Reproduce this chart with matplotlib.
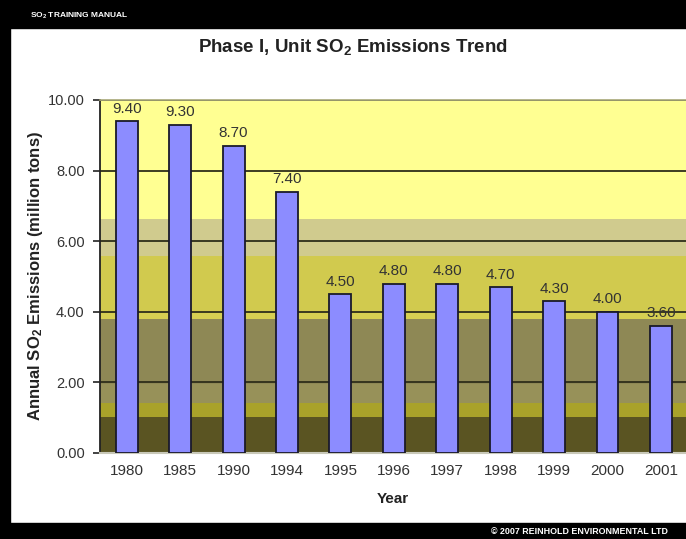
import matplotlib
matplotlib.use("Agg")
import matplotlib.pyplot as plt
from matplotlib.patches import Rectangle

plt.rcParams['font.family'] = ['Liberation Sans', 'DejaVu Sans']
# subscripts in the titles are set through mathtext, in the bold sans face
plt.rcParams['mathtext.fontset'] = 'custom'
plt.rcParams['mathtext.rm'] = 'Liberation Sans:bold'
plt.rcParams['mathtext.it'] = 'Liberation Sans:bold'
plt.rcParams['mathtext.bf'] = 'Liberation Sans:bold'

years = ['1980', '1985', '1990', '1994', '1995', '1996', '1997', '1998', '1999', '2000', '2001']
emissions = [9.40, 9.30, 8.70, 7.40, 4.50, 4.80, 4.80, 4.70, 4.30, 4.00, 3.60]
yticks = [0, 2, 4, 6, 8, 10]

# horizontal shaded bands behind the bars (lower, upper, colour)
bands = [
    (0.00, 1.02, '#5a5422'),
    (1.02, 1.42, '#a9a22a'),
    (1.42, 1.95, '#979159'),
    (1.95, 3.80, '#8e8855'),
    (3.80, 3.97, '#d6cf52'),
    (3.97, 5.58, '#d1ca4e'),
    (5.58, 6.63, '#d0cb8e'),
    (6.63, 10.0, '#ffff92'),
]

fig = plt.figure(figsize=(6.86, 5.39), dpi=100)
fig.patch.set_facecolor('white')

# page frame: black header, footer and left edge
fig.patches.append(Rectangle((0, 0.948), 1, 0.052, transform=fig.transFigure, color='black', zorder=0))
fig.patches.append(Rectangle((0, 0), 1, 0.0297, transform=fig.transFigure, color='black', zorder=0))
fig.patches.append(Rectangle((0, 0), 0.0146, 1, transform=fig.transFigure, color='black', zorder=0))
fig.text(0.044, 0.971, 'SO$_2$ TRAINING MANUAL', color='white', fontsize=6, fontweight='bold', va='center')
fig.text(0.973, 0.0135, '© 2007 REINHOLD ENVIRONMENTAL LTD', color='white', fontsize=6.4,
         fontweight='bold', ha='right', va='center')

ax = fig.add_axes([0.1458, 0.1596, 0.8542, 0.6549])
for lo, hi, c in bands:
    ax.axhspan(lo, hi, color=c, lw=0, zorder=0)

x = list(range(len(years)))
ax.bar(x, emissions, width=0.41, color='#8c8cff', edgecolor='#1a1a2a', linewidth=1.3, zorder=3)

for xi, v in zip(x, emissions):
    ax.annotate(f'{v:.2f}', (xi, v), xytext=(0, 4), textcoords='offset points',
                ha='center', va='bottom', fontsize=11, color='#333333', zorder=4)

ax.set_xlim(-0.5, 10.47)
ax.set_ylim(0, 10)
ax.set_yticks(yticks)
ax.set_yticklabels([f'{t:.2f}' for t in yticks])
ax.set_xticks(x)
ax.set_xticklabels(years)

ax.grid(axis='y', color='#2e2e1a', linewidth=1.3, zorder=1)
ax.set_axisbelow(True)
ax.tick_params(axis='y', direction='out', length=5, width=1.2, color='#222222',
               labelsize=10.5, labelcolor='#333333', pad=6)
ax.tick_params(axis='x', length=0, labelsize=11, labelcolor='#333333', pad=8)

ax.spines['right'].set_visible(False)
ax.spines['left'].set_color('#222222')
ax.spines['left'].set_linewidth(1.3)
ax.spines['top'].set_color('#a8a878')
ax.spines['top'].set_linewidth(1.2)
ax.spines['bottom'].set_color('#c8c8b8')
ax.spines['bottom'].set_linewidth(1.5)

ax.set_xlabel('Year', fontsize=11, fontweight='bold', color='#222222', labelpad=10)
ax.set_ylabel('Annual SO$_2$ Emissions (million tons)', fontsize=12, fontweight='bold',
              color='#222222', labelpad=2)

fig.text(0.515, 0.913, 'Phase I, Unit SO$_2$ Emissions Trend', fontsize=13.5, fontweight='bold',
         color='#222222', ha='center', va='center')

fig.savefig('out.png', dpi=100)
